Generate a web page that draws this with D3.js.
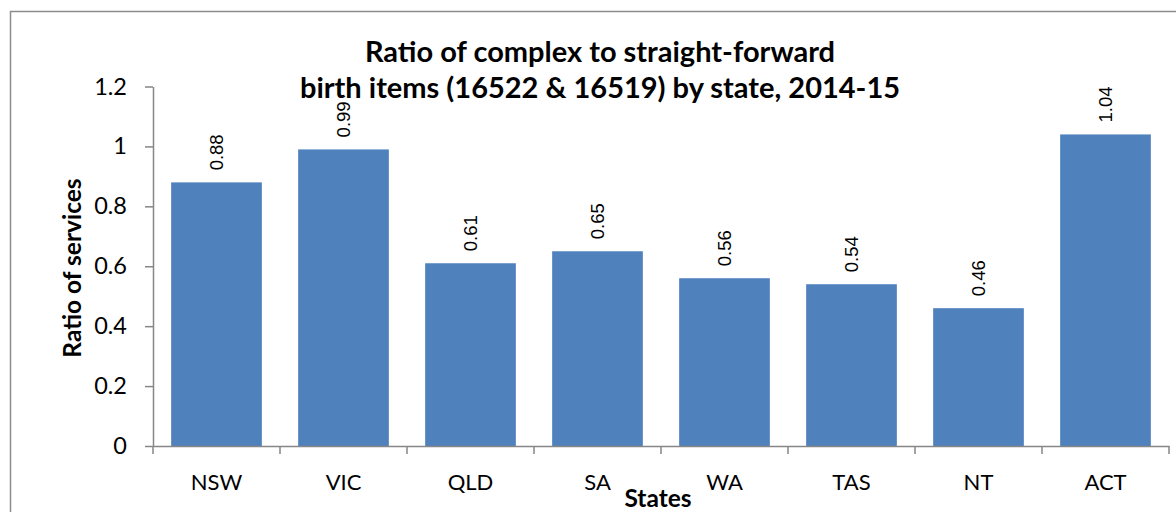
<!DOCTYPE html>
<html>
<head>
<meta charset="utf-8">
<script src="https://cdn.jsdelivr.net/npm/d3@7"></script>
<style>
  body { margin: 0; background: #fff; }
  svg { display: block; }
</style>
</head>
<body>
<svg width="1176" height="512"></svg>
<script>
// data
var states = ["NSW", "VIC", "QLD", "SA", "WA", "TAS", "NT", "ACT"];
var ratios = [0.88, 0.99, 0.61, 0.65, 0.56, 0.54, 0.46, 1.04];
var yTicks = [0, 0.2, 0.4, 0.6, 0.8, 1, 1.2];
var titleLines = ["Ratio of complex to straight-forward", "birth items (16522 & 16519) by state, 2014-15"];

var svg = d3.select("svg");
var axisColor = "#868686";

// chart border (runs off the right and bottom edge like in the picture)
svg.append("rect")
  .attr("x", 10.5).attr("y", 11.5)
  .attr("width", 1200).attr("height", 540)
  .attr("fill", "none").attr("stroke", "#8c8c8c").attr("stroke-width", 1.5);

var plotLeft = 153, plotRight = 1169, plotTop = 86.5, plotBottom = 446;

var xScale = d3.scaleBand()
  .domain(states)
  .range([plotLeft, plotRight])
  .paddingInner(0.286)
  .paddingOuter(0.143);

var yScale = d3.scaleLinear()
  .domain([0, 1.2])
  .range([plotBottom, plotTop]);

// bars
svg.selectAll("rect.bar")
  .data(states)
  .enter().append("rect")
  .attr("class", "bar")
  .attr("x", function(d) { return xScale(d); })
  .attr("width", xScale.bandwidth())
  .attr("y", function(d, i) { return yScale(ratios[i]); })
  .attr("height", function(d, i) { return plotBottom - yScale(ratios[i]); })
  .attr("fill", "#4f81bd");

// value labels, turned upright
svg.selectAll("text.val")
  .data(states)
  .enter().append("text")
  .attr("class", "val")
  .attr("transform", function(d, i) {
    return "translate(" + (xScale(d) + xScale.bandwidth() / 2) + "," + (yScale(ratios[i]) - 12) + ") rotate(-90)";
  })
  .attr("dy", "0.35em")
  .attr("text-anchor", "start")
  .style("font-family", "'Liberation Sans', Arial, sans-serif")
  .style("font-size", "18.5px")
  .attr("fill", "#000")
  .text(function(d, i) { return ratios[i]; });

// y axis
var yAxis = svg.append("g")
  .attr("transform", "translate(" + plotLeft + ",0)")
  .call(d3.axisLeft(yScale).tickValues(yTicks).tickSize(8).tickSizeOuter(0).tickPadding(18)
        .tickFormat(function(d) { return String(d); }));

// x axis: labels from the band scale, ticks on the band edges
var xAxis = svg.append("g")
  .attr("transform", "translate(0," + plotBottom + ")")
  .call(d3.axisBottom(xScale).tickSize(0).tickSizeOuter(0).tickPadding(28));

var edges = states.map(function(d) { return xScale(d) - xScale.step() * xScale.paddingInner() / 2; });
edges.push(plotRight);
xAxis.selectAll("line.edge")
  .data(edges)
  .enter().append("line")
  .attr("class", "edge")
  .attr("x1", function(d) { return d; }).attr("x2", function(d) { return d; })
  .attr("y1", 0).attr("y2", 8);

[yAxis, xAxis].forEach(function(g) {
  g.select(".domain").attr("stroke", axisColor).attr("stroke-width", 1.5);
  g.selectAll("line").attr("stroke", axisColor).attr("stroke-width", 1.5);
  g.selectAll("text")
    .style("font-family", "Lato, 'Noto Sans', sans-serif")
    .style("font-size", "22px")
    .attr("fill", "#000");
});
yAxis.selectAll("text").style("font-size", "23.5px");

// title
svg.append("g").selectAll("text")
  .data(titleLines)
  .enter().append("text")
  .attr("x", 600)
  .attr("y", function(d, i) { return 61.5 + i * 36.5; })
  .attr("text-anchor", "middle")
  .style("font-family", "Lato, 'Noto Sans', sans-serif")
  .style("font-weight", "bold")
  .style("font-size", "29px")
  .text(function(d) { return d; });

// axis titles
svg.append("text")
  .attr("transform", "translate(81,268) rotate(-90)")
  .attr("text-anchor", "middle")
  .style("font-family", "Lato, 'Noto Sans', sans-serif")
  .style("font-weight", "bold")
  .style("font-size", "24.5px")
  .text("Ratio of services");

svg.append("text")
  .attr("x", 658).attr("y", 507)
  .attr("text-anchor", "middle")
  .style("font-family", "Lato, 'Noto Sans', sans-serif")
  .style("font-weight", "bold")
  .style("font-size", "24.5px")
  .text("States");
</script>
</body>
</html>
